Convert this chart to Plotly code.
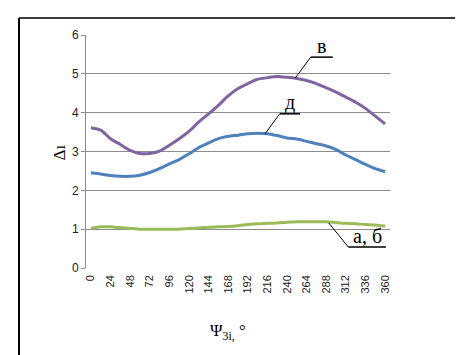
import plotly.graph_objects as go

angles = list(range(0, 361, 12))
tick_labels = [str(v) for v in range(0, 361, 24)]

series_v = [3.61, 3.55, 3.33, 3.18, 3.03, 2.95, 2.95, 3.01, 3.16, 3.33, 3.52,
            3.76, 3.97, 4.19, 4.43, 4.62, 4.75, 4.86, 4.90, 4.93, 4.91, 4.88,
            4.83, 4.75, 4.64, 4.53, 4.40, 4.27, 4.11, 3.91, 3.71]
series_d = [2.45, 2.42, 2.38, 2.36, 2.36, 2.39, 2.46, 2.56, 2.68, 2.79, 2.94,
            3.10, 3.22, 3.33, 3.39, 3.42, 3.46, 3.47, 3.46, 3.41, 3.35, 3.32,
            3.26, 3.20, 3.14, 3.05, 2.91, 2.79, 2.67, 2.56, 2.48]
series_ab = [1.02, 1.06, 1.06, 1.04, 1.02, 1.00, 1.00, 1.00, 1.00, 1.00, 1.02,
             1.03, 1.05, 1.06, 1.07, 1.09, 1.12, 1.14, 1.15, 1.16, 1.18, 1.19,
             1.19, 1.19, 1.19, 1.17, 1.15, 1.14, 1.12, 1.11, 1.08]

labels = ["в", "д", "а, б"]
colors = ["#8064A2", "#4F81BD", "#9BBB59"]

fig = go.Figure()
for name, ys, c in zip(labels, [series_v, series_d, series_ab], colors):
    fig.add_trace(go.Scatter(x=angles, y=ys, mode="lines", name=name,
                             line=dict(color=c, width=3, shape="spline", smoothing=0.6)))

serif = "Liberation Serif, Times New Roman, serif"
sans = "Liberation Sans, Arial, sans-serif"

# callout labels: (text, text x, underline x0, x1, underline y, leader end x, y)
callouts = [
    ("в", 282, 269, 296, 5.43, 250, 4.89),
    ("д", 244, 231, 256, 3.97, 213, 3.45),
    ("а, б", 338, 315, 361, 0.54, 291, 1.16),
]
shapes = []
annotations = []
for txt, tx, x0, x1, uy, lx, ly in callouts:
    shapes.append(dict(type="line", xref="x", yref="y", x0=x0, x1=x1, y0=uy, y1=uy,
                       line=dict(color="black", width=1.5)))
    shapes.append(dict(type="line", xref="x", yref="y", x0=x0, x1=lx, y0=uy, y1=ly,
                       line=dict(color="black", width=1)))
    annotations.append(dict(x=tx, y=uy, xref="x", yref="y", text=txt, showarrow=False,
                            xanchor="center", yanchor="bottom", yshift=-2,
                            font=dict(family=serif, size=20, color="black")))

# outer frame (top and left edges)
shapes.append(dict(type="line", xref="paper", yref="paper", x0=-0.2204, x1=1.3, y0=1.073, y1=1.073,
                   line=dict(color="#3a3a3a", width=2)))
shapes.append(dict(type="line", xref="paper", yref="paper", x0=-0.2204, x1=-0.2204, y0=1.073, y1=-0.45,
                   line=dict(color="black", width=2)))

annotations.append(dict(x=-0.125, y=0.494, xref="paper", yref="paper", text="Δı",
                        textangle=-90, showarrow=False,
                        font=dict(family=serif, size=17, color="black")))
annotations.append(dict(x=0.467, y=-0.33, xref="paper", yref="paper",
                        text="Ψ<sub>3i,</sub> °", showarrow=False,
                        font=dict(family=serif, size=17, color="black")))

fig.update_layout(
    width=463, height=355,
    margin=dict(l=78, r=81, t=27, b=95),
    paper_bgcolor="white", plot_bgcolor="white",
    showlegend=False,
    shapes=shapes, annotations=annotations,
    xaxis=dict(range=[-6, 366], tickvals=list(range(0, 361, 24)), ticktext=tick_labels,
               tickangle=-90, showgrid=False, zeroline=False, showline=False,
               ticks="", ticklabelstandoff=4,
               tickfont=dict(family=sans, size=11, color="#222")),
    yaxis=dict(range=[0, 6], tickvals=[0, 1, 2, 3, 4, 5, 6], showgrid=True,
               gridcolor="#8c8c8c", gridwidth=1, zeroline=False,
               showline=True, linecolor="#8c8c8c", linewidth=1,
               ticks="outside", ticklen=4, tickcolor="#8c8c8c",
               tickfont=dict(family=sans, size=12, color="#222")),
)
fig.write_html("out.html")
